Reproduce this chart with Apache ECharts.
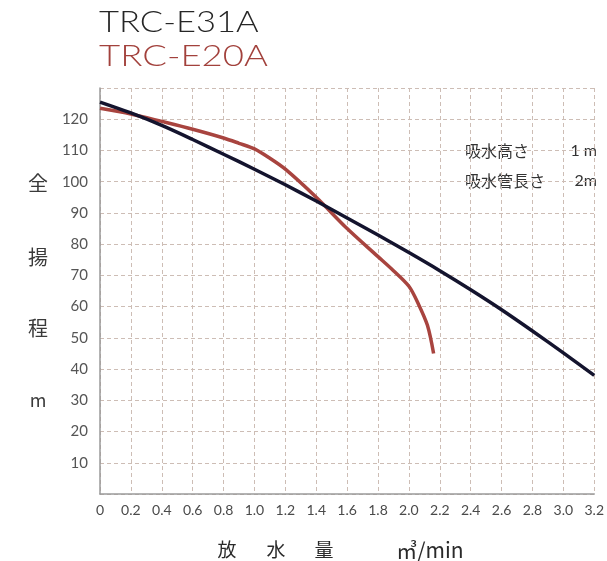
<!DOCTYPE html>
<html>
<head>
<meta charset="utf-8">
<script src="https://cdn.jsdelivr.net/npm/echarts@6/dist/echarts.min.js"></script>
<style>
html,body{margin:0;padding:0;background:#fff;}
#chart{width:607px;height:561px;}
</style>
</head>
<body>
<div id="chart"></div>
<script>
// Data
const seriesNames = ['TRC-E31A', 'TRC-E20A'];
const e31aFlow = [0, 0.2, 0.4, 0.6, 0.8, 1.0, 1.2, 1.4, 1.6, 1.8, 2.0, 2.2, 2.4, 2.6, 2.8, 3.0, 3.2];
const e31aHead = [125.5, 122, 118, 113.5, 108.8, 104, 99, 93.8, 88.4, 82.9, 77.3, 71.5, 65.4, 59, 52.2, 45.2, 38];
const e20aFlow = [0, 0.2, 0.4, 0.6, 0.8, 0.9, 1.0, 1.1, 1.2, 1.4, 1.6, 1.8, 1.9, 2.0, 2.06, 2.12, 2.16];
const e20aHead = [123.5, 121.7, 119.3, 116.8, 114, 112.3, 110.5, 107.5, 104, 95, 85, 76, 71.5, 66.5, 61, 54, 45];
const xTickLabels = ['0','0.2','0.4','0.6','0.8','1.0','1.2','1.4','1.6','1.8','2.0','2.2','2.4','2.6','2.8','3.0','3.2'];
const yTickLabels = ['', '10','20','30','40','50','60','70','80','90','100','110','120',''];
const yAxisTitle = ['全', '揚', '程', 'm'];
const xAxisTitle = ['放', '水', '量', '㎥/min'];
const noteLines = [['吸水高さ', '1 m'], ['吸水管長さ', '2m']];

const chart = echarts.init(document.getElementById('chart'), null, {renderer: 'canvas'});
const pair = (xs, ys) => xs.map((x, i) => [x, ys[i]]);
const gridColor = '#cdbdb5';
const font = 'Lato, "Noto Sans", sans-serif';
const cjk = '"Noto Sans CJK JP", sans-serif';

const yTitlePos = [183, 257, 328, 400];
const xTitlePos = [227, 276, 324, 430];

const graphics = [
  {type:'text', x:99, y:8, scaleX:1.19, style:{text:seriesNames[0], font:'300 29px ' + font, fill:'#262626'}},
  {type:'text', x:99, y:42, scaleX:1.26, style:{text:seriesNames[1], font:'300 29px ' + font, fill:'#a2413c'}}
];
yAxisTitle.forEach((t, i) => graphics.push({type:'text', x:38, y:yTitlePos[i], style:{text:t, font:(i===3?'18px ':'20px ') + cjk, fill:'#3a3a3a', align:'center', verticalAlign:'middle'}}));
xAxisTitle.forEach((t, i) => graphics.push({type:'text', x:xTitlePos[i], y:550, style:{text:t, font:(i===3?'21px ':'19px ') + cjk, fill:'#2a2a2a', align:'center', verticalAlign:'middle'}}));
noteLines.forEach((l, i) => {
  graphics.push({type:'text', x:465, y:151 + i*30, style:{text:l[0], font:'16px ' + cjk, fill:'#333', verticalAlign:'middle'}});
  graphics.push({type:'text', x:597, y:151 + i*30, style:{text:l[1], font:'16px ' + font, fill:'#333', align:'right', verticalAlign:'middle'}});
});

chart.setOption({
  animation: false,
  backgroundColor: '#fff',
  grid: {left: 100, right: 10, top: 88, bottom: 67, containLabel: false},
  xAxis: {
    type: 'value', min: 0, max: 3.2, interval: 0.2,
    axisLine: {show: true, onZero: false, lineStyle: {color: '#9a9a9a', width: 1.5}},
    axisTick: {show: false},
    axisLabel: {color: '#4a4a4a', fontSize: 14, fontFamily: font, margin: 9,
      formatter: (v) => xTickLabels[Math.round(v / 0.2)]},
    splitLine: {show: true, lineStyle: {color: gridColor, type: [4, 3], width: 1}}
  },
  yAxis: {
    type: 'value', min: 0, max: 130, interval: 10,
    axisLine: {show: true, lineStyle: {color: '#9a9a9a', width: 1.5}},
    axisTick: {show: false},
    axisLabel: {color: '#555', fontSize: 15, fontFamily: font, margin: 12,
      formatter: (v) => yTickLabels[Math.round(v / 10)]},
    splitLine: {show: true, lineStyle: {color: gridColor, type: [4, 3], width: 1}}
  },
  graphic: graphics,
  series: [
    {name: seriesNames[1], type: 'line', data: pair(e20aFlow, e20aHead), smooth: 0.3, symbol: 'none',
      lineStyle: {color: '#a8443f', width: 3.5}, z: 2},
    {name: seriesNames[0], type: 'line', data: pair(e31aFlow, e31aHead), smooth: 0.3, symbol: 'none',
      lineStyle: {color: '#14142e', width: 3.5}, z: 3}
  ]
});
</script>
</body>
</html>
